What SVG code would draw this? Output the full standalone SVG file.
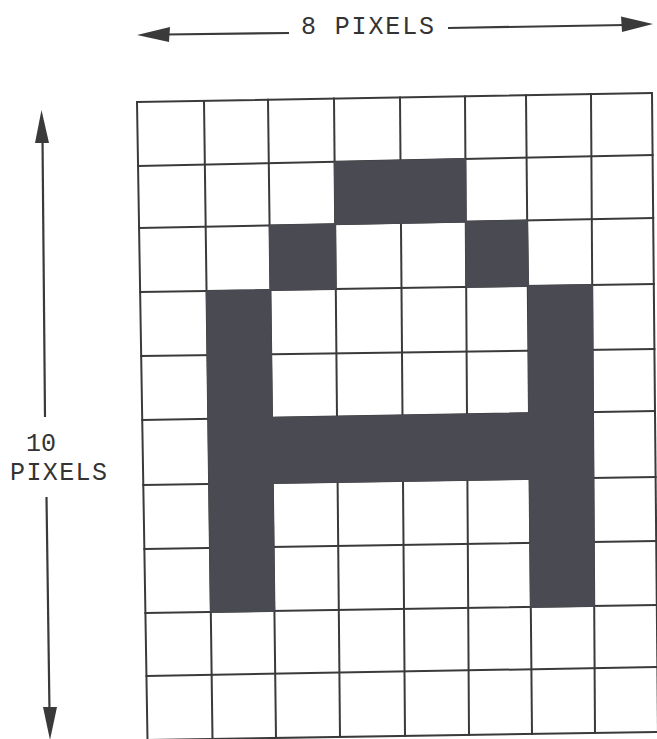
<svg xmlns="http://www.w3.org/2000/svg" width="657" height="739" viewBox="0 0 657 739">
<defs>
<style>
.grid line{stroke:#3a3a3a;stroke-width:2;stroke-linecap:square}
.px{fill:#4a4a52;stroke:#4a4a52;stroke-width:1.5}
.lbl{font-family:"Liberation Mono","DejaVu Sans Mono",monospace;font-size:25px;fill:#333}
.arr{stroke:#3a3a3a;stroke-width:2.2;fill:none}
.head{fill:#3a3a3a}
</style>
</defs>
<rect x="0" y="0" width="657" height="739" fill="#ffffff"/>
<g id="grid" class="grid">
<line x1="137" y1="102" x2="147.5" y2="740"/>
<line x1="204" y1="100.9" x2="212.5" y2="739"/>
<line x1="268" y1="99.8" x2="276" y2="738"/>
<line x1="334" y1="98.6" x2="340" y2="737"/>
<line x1="400" y1="97.5" x2="405" y2="736"/>
<line x1="465" y1="96.4" x2="469" y2="735"/>
<line x1="526" y1="95.3" x2="532" y2="734"/>
<line x1="591" y1="94.1" x2="595" y2="733"/>
<line x1="652" y1="93" x2="658" y2="732"/>
<line x1="137" y1="102" x2="652" y2="93"/>
<line x1="138" y1="166" x2="652.6" y2="155"/>
<line x1="139.1" y1="228" x2="653.2" y2="218"/>
<line x1="140.2" y1="292" x2="653.8" y2="284"/>
<line x1="141.2" y1="356" x2="654.4" y2="349"/>
<line x1="142.3" y1="420" x2="655" y2="411"/>
<line x1="143.3" y1="485" x2="655.6" y2="477"/>
<line x1="144.4" y1="549" x2="656.2" y2="541"/>
<line x1="145.4" y1="613" x2="656.8" y2="605"/>
<line x1="146.5" y1="676" x2="657.4" y2="667"/>
<line x1="147.5" y1="740" x2="658" y2="732"/>
</g>
<g id="pixels">
<polygon class="px" points="334.6,161.9 465.4,159.1 465.8,221.8 335.2,224.3"/>
<polygon class="px" points="269.6,225.5 335.2,224.3 335.8,289 270.4,290"/>
<polygon class="px" points="465.8,221.8 527.2,220.5 528.4,286 466.2,287"/>
<polygon class="px" points="206.6,291 270.4,290 272,417.8 529,413.3 528.4,286 592.2,285 594.2,606 530.8,607 529.6,479 272.8,483 274.4,611 210.8,612"/>
</g>
<g id="arrows">
<line class="arr" x1="165" y1="34.5" x2="289" y2="33"/>
<polygon class="head" points="137,35 170,27 169,42"/>
<line class="arr" x1="448" y1="28" x2="625" y2="25"/>
<polygon class="head" points="653,24 621,16.5 622,32"/>
<line class="arr" x1="42.5" y1="138" x2="45" y2="417"/>
<polygon class="head" points="41.5,110 35,143 49,143"/>
<line class="arr" x1="46.5" y1="497" x2="49.5" y2="712"/>
<polygon class="head" points="50,740 43,707 57,707"/>
</g>
<g id="labels">
<text class="lbl" x="301" y="34" textLength="133" lengthAdjust="spacing">8 PIXELS</text>
<text class="lbl" x="41" y="451" text-anchor="middle" textLength="30" lengthAdjust="spacing">10</text>
<text class="lbl" x="10" y="480" textLength="97" lengthAdjust="spacing">PIXELS</text>
</g>
</svg>
